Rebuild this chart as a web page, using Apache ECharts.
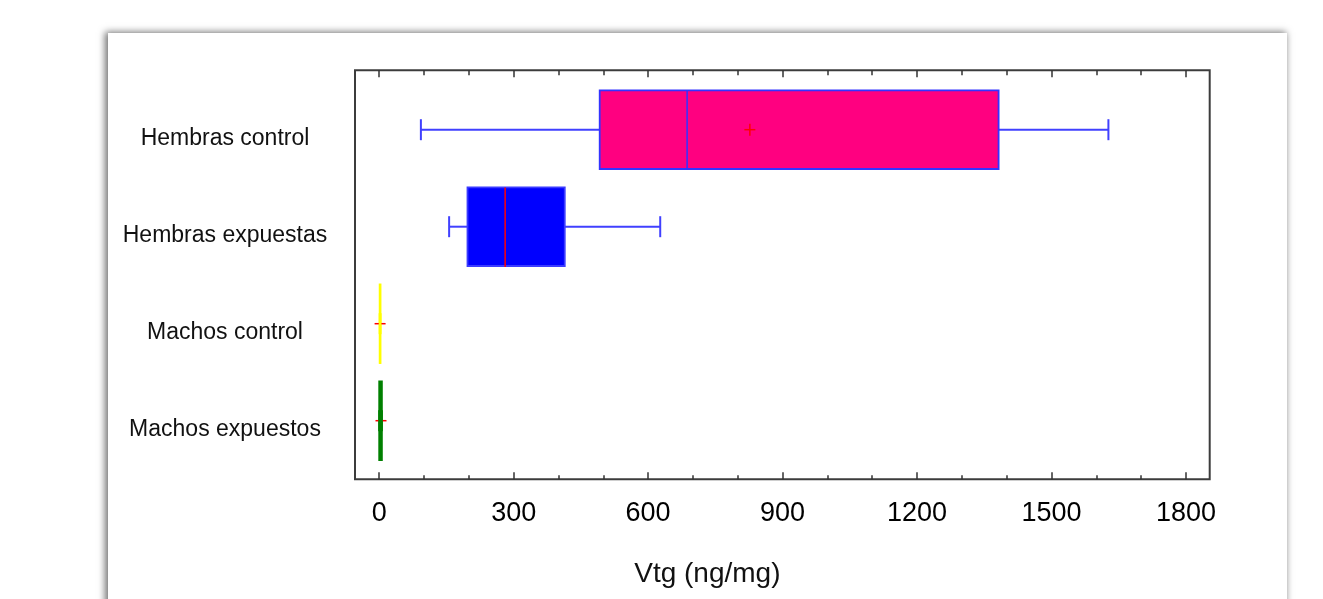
<!DOCTYPE html>
<html>
<head>
<meta charset="utf-8">
<title>Vtg (ng/mg)</title>
<script src="https://cdn.jsdelivr.net/npm/echarts@6/dist/echarts.min.js"></script>
<style>
  html, body { margin: 0; padding: 0; background: #fff; width: 1323px; height: 599px; overflow: hidden; }
  /* tarjeta blanca con sombra */
  .card { position: absolute; left: 108px; top: 33px; width: 1179px; height: 640px; background: #fff;
          box-shadow: -2px 0 7px 1px rgba(0, 0, 0, 0.55); }
  #main { position: absolute; left: 0; top: 0; width: 1323px; height: 599px; }
</style>
</head>
<body>
<div class="card"></div>
<div id="main"></div>
<script>
  // datos ========
  const groups = ['Hembras control', 'Hembras expuestas', 'Machos control', 'Machos expuestos'];
  const vMin = [93, 156, 1, 0];
  const vQ1 = [492, 197, 1, 0];
  const vMedian = [687, 281, 2, 3];
  const vQ3 = [1382, 414, 3, 6];
  const vMax = [1627, 627, 3, 6];
  const vMean = [827, null, 2, 4];
  const majorTicks = [0, 300, 600, 900, 1200, 1500, 1800];
  const minorTicks = [100, 200, 400, 500, 700, 800, 1000, 1100, 1300, 1400, 1600, 1700];

  // estilos por grupo
  const boxStyle = [
    { fill: '#ff0080', stroke: '#3333ff', median: '#3333ff', whisker: '#4040ff' },
    { fill: '#0000ff', stroke: '#3b3bff', median: '#ff0000', whisker: '#4040ff' },
    { fill: '#ffff00', stroke: '#ffff00', median: '#ffff00', whisker: '#ffff00' },
    { fill: '#008000', stroke: '#008000', median: '#008000', whisker: '#008000' }
  ];

  const boxData = groups.map((g, i) => [i, vMin[i], vQ1[i], vMedian[i], vQ3[i], vMax[i], vMean[i] == null ? NaN : vMean[i]]);

  const xMin = -54;
  const xMax = 1853;
  const font = '"Liberation Sans", Arial, sans-serif';

  const renderBox = (params, api) => {
    const i = api.value(0);
    const st = boxStyle[i];
    const y = api.coord([0, i])[1];
    const h = api.size([0, 1])[1] * 0.81;
    const px = (v) => api.coord([v, i])[0];
    const a = px(api.value(1));
    const q1 = px(api.value(2));
    const md = px(api.value(3));
    const q3 = px(api.value(4));
    const b = px(api.value(5));
    const mean = api.value(6);
    const cap = 10.5;
    const wl = { stroke: st.whisker, lineWidth: 2 };
    const kids = [
      { type: 'line', shape: { x1: a, y1: y, x2: q1, y2: y }, style: wl },
      { type: 'line', shape: { x1: a, y1: y - cap, x2: a, y2: y + cap }, style: wl },
      { type: 'line', shape: { x1: q3, y1: y, x2: b, y2: y }, style: wl },
      { type: 'line', shape: { x1: b, y1: y - cap, x2: b, y2: y + cap }, style: wl },
      { type: 'rect', shape: { x: q1, y: y - h / 2, width: q3 - q1, height: h }, style: { fill: st.fill } }
    ];
    if (!isNaN(mean)) {
      const m = px(mean);
      kids.push({ type: 'line', shape: { x1: m - 5.5, y1: y, x2: m + 5.5, y2: y }, style: { stroke: '#ff0000', lineWidth: 1.5 } });
      kids.push({ type: 'line', shape: { x1: m, y1: y - 6, x2: m, y2: y + 6 }, style: { stroke: '#ff0000', lineWidth: 1.5 } });
    }
    kids.push({ type: 'rect', shape: { x: q1, y: y - h / 2, width: q3 - q1, height: h }, style: { fill: 'none', stroke: st.stroke, lineWidth: 1.8 } });
    kids.push({ type: 'line', shape: { x1: md, y1: y - h / 2, x2: md, y2: y + h / 2 + 1 }, style: { stroke: st.median, lineWidth: 1.5 } });
    return { type: 'group', children: kids };
  };

  const tickAxis = (gridIndex, position, values, len, withLabel) => ({
    gridIndex: gridIndex,
    type: 'value',
    position: position,
    min: xMin,
    max: xMax,
    axisLine: { show: false },
    splitLine: { show: false },
    axisTick: { show: true, inside: true, length: len, customValues: values, lineStyle: { color: '#333', width: 1.5 } },
    axisLabel: withLabel
      ? { show: true, customValues: values, formatter: (v) => String(v), margin: 21, fontSize: 27, fontFamily: font, color: '#000' }
      : { show: false }
  });

  const bottomMajor = tickAxis(1, 'bottom', majorTicks, 7, true);
  bottomMajor.name = 'Vtg (ng/mg)';
  bottomMajor.nameLocation = 'middle';
  bottomMajor.nameGap = 81;
  bottomMajor.nameTextStyle = { fontSize: 28, fontFamily: font, color: '#111', padding: [0, 150, 0, 0] };

  const myChart = echarts.init(document.getElementById('main'));
  myChart.setOption({
    animation: false,
    grid: [
      // datos
      { left: 355, right: 113.3, top: 81.2, bottom: 129.8, outerBoundsMode: 'none' },
      // marco + ticks mayores
      { left: 355, right: 113.3, top: 70.3, bottom: 119.7, show: true, borderColor: '#3c3c3c', borderWidth: 2, backgroundColor: 'transparent', outerBoundsMode: 'none' },
      // ticks menores
      { left: 355, right: 113.3, top: 70.3, bottom: 119.7, outerBoundsMode: 'none' },
      // etiquetas de grupos (algo mas abajo que las cajas)
      { left: 355, right: 113.3, top: 90.2, bottom: 120.8, outerBoundsMode: 'none' }
    ],
    xAxis: [
      { gridIndex: 0, type: 'value', min: xMin, max: xMax, show: false },
      bottomMajor,
      tickAxis(1, 'top', majorTicks, 7, false),
      tickAxis(2, 'bottom', minorTicks, 4, false),
      tickAxis(2, 'top', minorTicks, 5, false),
      { gridIndex: 3, type: 'value', min: xMin, max: xMax, show: false }
    ],
    yAxis: [
      { gridIndex: 0, type: 'category', data: groups, inverse: true, show: false },
      { gridIndex: 1, type: 'value', show: false },
      { gridIndex: 2, type: 'value', show: false },
      {
        gridIndex: 3,
        type: 'category',
        data: groups,
        inverse: true,
        axisLine: { show: false },
        axisTick: { show: false },
        splitLine: { show: false },
        axisLabel: { align: 'center', margin: 130, fontSize: 23, fontFamily: font, color: '#111' }
      }
    ],
    series: [
      {
        type: 'custom',
        xAxisIndex: 0,
        yAxisIndex: 0,
        renderItem: renderBox,
        encode: { x: [1, 2, 3, 4, 5], y: 0 },
        data: boxData,
        clip: false
      }
    ]
  });
</script>
</body>
</html>
